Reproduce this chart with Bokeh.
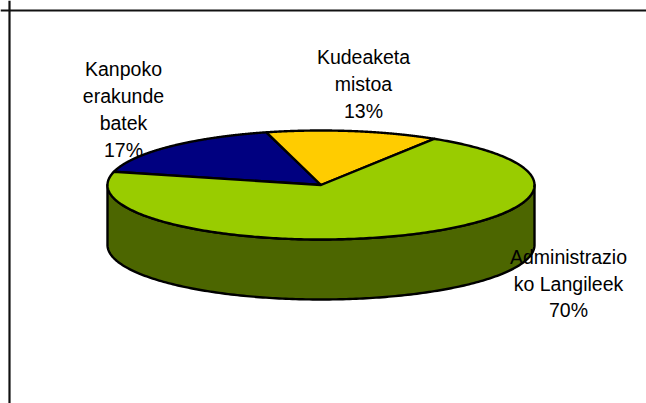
import numpy as np
from bokeh.plotting import figure
from bokeh.models import Range1d, Span, ColumnDataSource
from bokeh.core.properties import value
from bokeh.embed import file_html
from bokeh.resources import INLINE

# ---- data ----
categories = ["Kanpoko erakunde batek", "Kudeaketa mistoa", "Administrazioko Langileek"]
shares = [17, 13, 70]
label_lines = [["Kanpoko", "erakunde", "batek"],
               ["Kudeaketa", "mistoa"],
               ["Administrazio", "ko Langileek"]]
colors = ["#000080", "#FFCC00", "#99CC00"]

# ---- layout constants ----
W, H = 646, 403
CX, CY, RX, RY, DEPTH = 320.5, 184.5, 213.5, 54.5, 60.0
START = 166.0  # degrees, slices run clockwise
label_centers = [(123, 109.0), (363, 83.5), (568, 283.0)]
LINE = 26.8
FONT = "Liberation Sans"
FONT_SIZE = "19.5px"


def darker(hexcol, f=0.5):
    h = hexcol.lstrip("#")
    r, g, b = (int(h[i:i + 2], 16) for i in (0, 2, 4))
    return "#%02x%02x%02x" % (int(r * f), int(g * f), int(b * f))


p = figure(width=W, height=H, output_backend="svg", toolbar_location=None,
           x_range=Range1d(0, W), y_range=Range1d(H, 0),
           x_axis_type=None, y_axis_type=None, min_border=0)
p.grid.visible = False
p.outline_line_color = None
p.background_fill_color = "white"
p.border_fill_color = "white"

# frame (left and top edges visible; the rest lies outside the picture)
p.add_layout(Span(location=9, dimension="height", line_color="#111111", line_width=2.2))
p.add_layout(Span(location=10, dimension="width", line_color="#111111", line_width=2.2))

total = float(sum(shares))
spans = [360.0 * s / total for s in shares]
a0s, a1s = [], []
a = START
for sp in spans:
    a0s.append(a)
    a1s.append(a - sp)
    a -= sp

# side walls (front-facing part of each slice)
wall_xs, wall_ys, wall_cols = [], [], []
for a0, a1, col in zip(a0s, a1s, colors):
    lo_s, hi_s = min(a0, a1), max(a0, a1)
    for k in range(-2, 2):
        lo = max(lo_s, -180 + 360 * k)
        hi = min(hi_s, 0 + 360 * k)
        if hi - lo <= 0:
            continue
        t = np.radians(np.linspace(lo, hi, 200))
        xt = CX + RX * np.cos(t)
        yt = CY - RY * np.sin(t)
        wall_xs.append(list(xt) + list(xt[::-1]))
        wall_ys.append(list(yt) + list((yt + DEPTH)[::-1]))
        wall_cols.append(darker(col))

p.patches(xs=wall_xs, ys=wall_ys, fill_color=wall_cols, line_color="black",
          line_width=2.4, line_join="round")

# top faces
top_xs, top_ys = [], []
for a0, a1 in zip(a0s, a1s):
    t = np.radians(np.linspace(a0, a1, 300))
    top_xs.append([CX] + list(CX + RX * np.cos(t)))
    top_ys.append([CY] + list(CY - RY * np.sin(t)))
p.patches(xs=top_xs, ys=top_ys, fill_color=colors, line_color="black",
          line_width=2.4, line_join="round")

# labels
lx, ly, lt = [], [], []
for (cx, cy), lines, s in zip(label_centers, label_lines, shares):
    allines = lines + ["%d%%" % s]
    n = len(allines)
    for i, txt in enumerate(allines):
        lx.append(cx)
        ly.append(cy + (i - (n - 1) / 2.0) * LINE)
        lt.append(txt)
src = ColumnDataSource(dict(x=lx, y=ly, text=lt))
p.text(x="x", y="y", text="text", source=src, text_align="center",
       text_baseline="middle", text_font=value(FONT), text_font_size=FONT_SIZE,
       text_color="black")

open("out.html", "w").write(file_html(p, INLINE))
